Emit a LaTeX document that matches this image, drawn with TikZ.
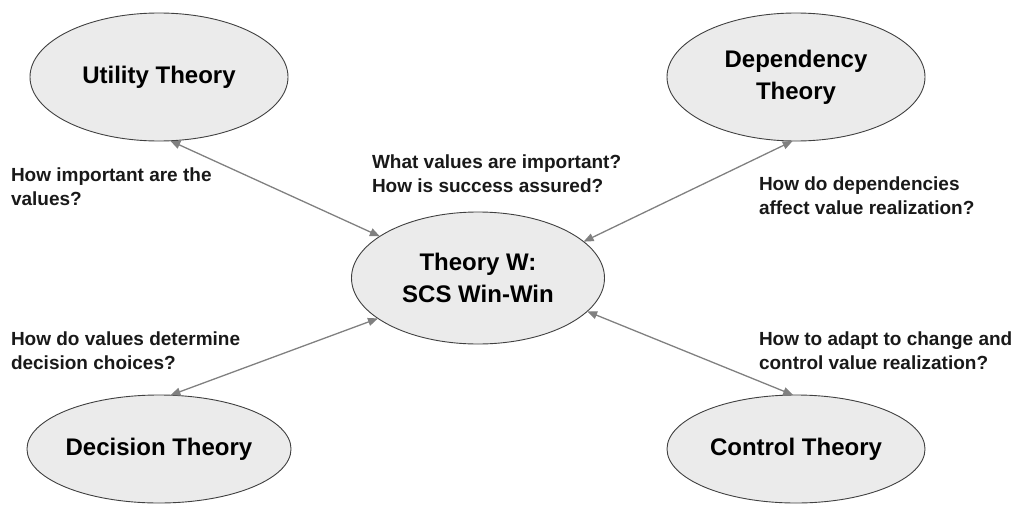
\documentclass[tikz,border=0pt]{standalone}
\usepackage{fontspec}
\setmainfont{Liberation Sans}
\usetikzlibrary{arrows.meta,shapes.geometric}
\begin{document}
\begin{tikzpicture}[x=1pt,y=-1pt,
  theory/.style={ellipse,draw=black!75,line width=0.9pt,fill=black!8,inner sep=0pt,outer sep=0pt,
    minimum width=258pt,minimum height=128pt,align=center,font=\fontsize{24}{32}\selectfont\bfseries},
  lowtheory/.style={theory,minimum height=108pt},
  question/.style={anchor=north west,inner sep=0pt,outer sep=0pt,align=left,text=black!90,
    font=\fontsize{19}{23.5}\selectfont\bfseries},
  conn/.style={draw=black!50,line width=1.3pt,{Triangle[length=10pt,width=8pt]}-{Triangle[length=10pt,width=8pt]}}
]
\useasboundingbox (0,0) rectangle (1014,506);

\node[theory] (U) at (159,77) {Utility Theory};
\node[theory] (D) at (796,77) {Dependency\\Theory};
\node[theory,minimum width=253pt,minimum height=132pt] (C) at (478,278) {Theory W:\\SCS Win-Win};
\node[lowtheory] (DT) at (159,449) {Decision Theory};
\node[lowtheory] (CT) at (796,449) {Control Theory};

\draw[conn] (U.-80) -- (C.157);
\draw[conn] (D.-93) -- (C.19);
\draw[conn] (DT.78) -- (C.-158);
\draw[conn] (CT.93) -- (C.-17);

\node[question] (q1) at (11,168) {How important are the\\values?};
\node[question] (q2) at (372,155) {What values are important?\\How is success assured?};
\node[question] (q3) at (759,177) {How do dependencies\\affect value realization?};
\node[question] (q4) at (11,332) {How do values determine\\decision choices?};
\node[question] (q5) at (759,332) {How to adapt to change and\\control value realization?};
\end{tikzpicture}
\end{document}
